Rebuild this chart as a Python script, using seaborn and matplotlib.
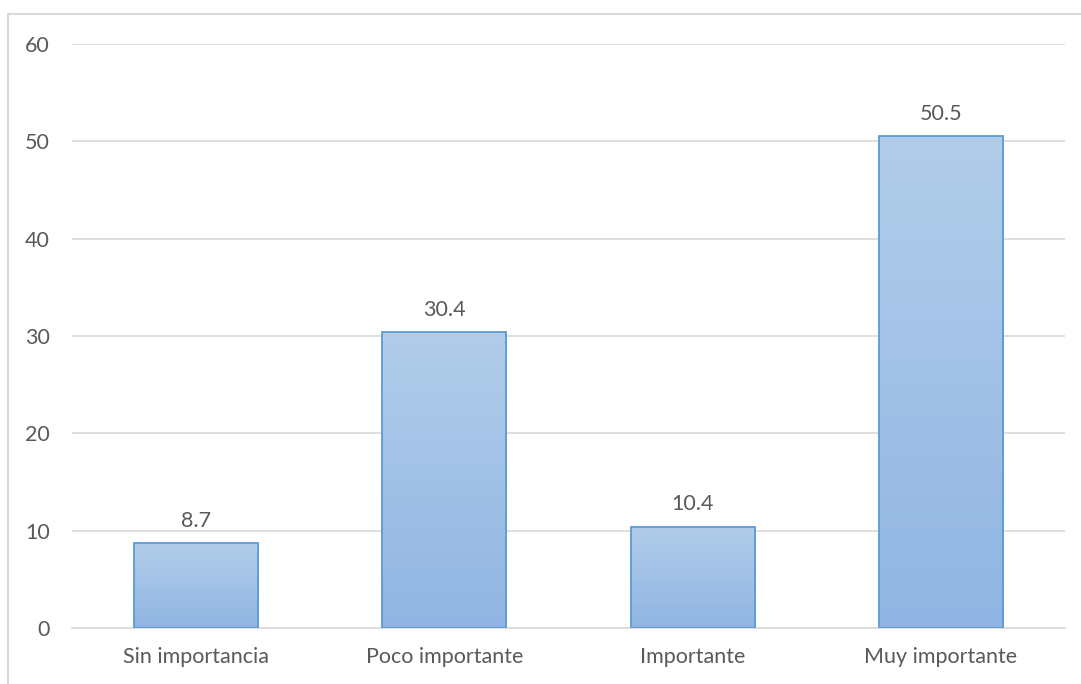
import numpy as np
import pandas as pd
import seaborn as sns
import matplotlib
matplotlib.use("Agg")
import matplotlib.pyplot as plt
from matplotlib.colors import LinearSegmentedColormap
from matplotlib.lines import Line2D

categories = ["Sin importancia", "Poco importante", "Importante", "Muy importante"]
values = [8.7, 30.4, 10.4, 50.5]
yticks = [0, 10, 20, 30, 40, 50, 60]

sns.set_theme(style="white")
plt.rcParams['font.family'] = ['Lato', 'DejaVu Sans']

fig = plt.figure(figsize=(10.81, 6.84), dpi=100)
ax = fig.add_axes([72/1081, 1-628/684, (1065-72)/1081, (628-44)/684])

df = pd.DataFrame({"cat": categories, "val": values})
sns.barplot(data=df, x="cat", y="val", ax=ax, width=0.5, color="#a6c4e8",
            edgecolor="#5b9bd5", linewidth=1.3, zorder=3)

ax.set_ylim(0, 60)
ax.set_xlim(-0.5, 3.5)
ax.set_yticks(yticks)
ax.set_yticklabels([str(t) for t in yticks])
ax.set_xlabel("")
ax.set_ylabel("")
ax.grid(axis="y", color="#d9d9d9", linewidth=1.2, zorder=0)
for s in ["top", "right", "left"]:
    ax.spines[s].set_visible(False)
ax.spines["bottom"].set_color("#d9d9d9")
ax.spines["bottom"].set_linewidth(1.2)
ax.tick_params(axis="both", length=0, labelsize=15.5, colors="#595959")
ax.tick_params(axis="x", pad=14)
ax.tick_params(axis="y", pad=16)

# gradient fill
cmap = LinearSegmentedColormap.from_list("g", ["#90b5e2", "#b2cdea"])
grad = np.linspace(0, 1, 256).reshape(-1, 1)
for p in list(ax.patches):
    x0, y0 = p.get_x(), p.get_y()
    w, h = p.get_width(), p.get_height()
    p.set_facecolor("none")
    im = ax.imshow(grad, extent=[x0, x0 + w, y0, y0 + h], origin="lower",
                   cmap=cmap, aspect="auto", zorder=2.5)
    im.set_clip_path(p)
ax.set_xlim(-0.5, 3.5)
ax.set_ylim(0, 60)

for i, v in enumerate(values):
    ax.annotate(f"{v:.1f}", (i, v), xytext=(0, 9), textcoords="offset points",
                ha="center", va="bottom", fontsize=15.5, color="#595959")

# chart-area border (left and top visible)
fig.add_artist(Line2D([8/1081, 8/1081], [0, 1-14/684], transform=fig.transFigure,
                      color="#d9d9d9", linewidth=1.5))
fig.add_artist(Line2D([8/1081, 1], [1-14/684, 1-14/684], transform=fig.transFigure,
                      color="#d9d9d9", linewidth=1.5))

fig.savefig("out.png", dpi=100, facecolor="white")
